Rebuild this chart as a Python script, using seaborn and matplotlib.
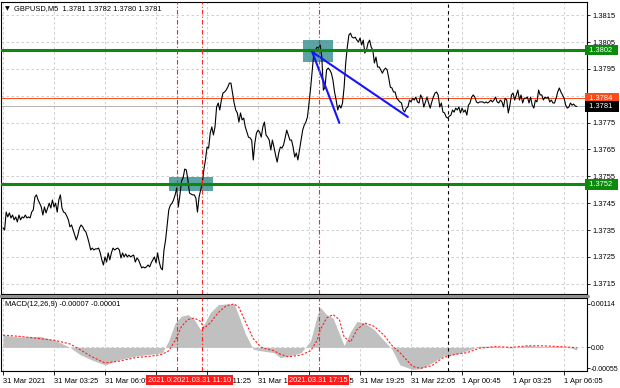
import numpy as np
import pandas as pd
import matplotlib
matplotlib.use("Agg")
import matplotlib.pyplot as plt
import seaborn as sns
from matplotlib.patches import Rectangle
from matplotlib.lines import Line2D

sns.set_theme(style="white")
plt.rcParams['font.family'] = ['Liberation Sans', 'DejaVu Sans']

# ---------------- data ----------------
title_text = "GBPUSD,M5  1.3781 1.3782 1.3780 1.3781"
macd_title = "MACD(12,26,9) -0.00007 -0.00001"
start_time = "2021-03-31 00:45"

close = [
    1.37358, 1.37350, 1.37417, 1.37399, 1.37414, 1.37395, 1.37406, 1.37388, 1.37399, 1.37380,
    1.37406, 1.37388, 1.37399, 1.37395, 1.37406, 1.37395, 1.37399, 1.37395, 1.37417, 1.37425,
    1.37473, 1.37481, 1.37462, 1.37450, 1.37436, 1.37406, 1.37436, 1.37414, 1.37432, 1.37450,
    1.37432, 1.37462, 1.37436, 1.37450, 1.37417, 1.37462, 1.37481, 1.37432, 1.37417, 1.37414,
    1.37402, 1.37388, 1.37362, 1.37369, 1.37350, 1.37332, 1.37313, 1.37332, 1.37358, 1.37369,
    1.37362, 1.37350, 1.37343, 1.37324, 1.37302, 1.37276, 1.37283, 1.37276, 1.37280, 1.37280,
    1.37283, 1.37265, 1.37239, 1.37220, 1.37250, 1.37231, 1.37265, 1.37239, 1.37265, 1.37283,
    1.37276, 1.37280, 1.37283, 1.37276, 1.37246, 1.37265, 1.37250, 1.37261, 1.37250, 1.37257,
    1.37250, 1.37254, 1.37257, 1.37231, 1.37246, 1.37239, 1.37224, 1.37209, 1.37213, 1.37209,
    1.37213, 1.37220, 1.37213, 1.37228, 1.37239, 1.37250, 1.37228, 1.37265, 1.37231, 1.37209,
    1.37202, 1.37276, 1.37313, 1.37369, 1.37425, 1.37443, 1.37450, 1.37462, 1.37481, 1.37507,
    1.37436, 1.37481, 1.37533, 1.37544, 1.37577, 1.37574, 1.37536, 1.37488, 1.37484, 1.37481,
    1.37481, 1.37469, 1.37417, 1.37473, 1.37499, 1.37525, 1.37574, 1.37611, 1.37659, 1.37655,
    1.37711, 1.37734, 1.37704, 1.37734, 1.37808, 1.37823, 1.37797, 1.37834, 1.37860, 1.37864,
    1.37871, 1.37882, 1.37897, 1.37897, 1.37860, 1.37823, 1.37797, 1.37786, 1.37752, 1.37786,
    1.37760, 1.37767, 1.37734, 1.37715, 1.37696, 1.37693, 1.37685, 1.37611, 1.37674, 1.37711,
    1.37722, 1.37715, 1.37696, 1.37734, 1.37752, 1.37704, 1.37696, 1.37685, 1.37648, 1.37685,
    1.37659, 1.37629, 1.37603, 1.37637, 1.37659, 1.37655, 1.37667, 1.37693, 1.37722, 1.37704,
    1.37685, 1.37685, 1.37659, 1.37622, 1.37637, 1.37611, 1.37648, 1.37685, 1.37722, 1.37741,
    1.37752, 1.37771, 1.37823, 1.37879, 1.37946, 1.38009, 1.38020, 1.38031, 1.38027, 1.38039,
    1.37994, 1.37871, 1.37882, 1.37946, 1.37953, 1.37946, 1.37934, 1.37908, 1.37864, 1.37834,
    1.37797, 1.37815, 1.37804, 1.37823, 1.37882, 1.37972, 1.38031, 1.38076, 1.38083, 1.38068,
    1.38065, 1.38068, 1.38057, 1.38050, 1.38065, 1.38039, 1.38057, 1.38009, 1.38020, 1.38046,
    1.38057, 1.38031, 1.38020, 1.37972, 1.37994, 1.37957, 1.37957, 1.37946, 1.37934, 1.37946,
    1.37953, 1.37946, 1.37916, 1.37882, 1.37879, 1.37864, 1.37864, 1.37841, 1.37834, 1.37827,
    1.37823, 1.37797, 1.37789, 1.37804, 1.37808, 1.37834, 1.37827, 1.37841, 1.37834, 1.37845,
    1.37827, 1.37823, 1.37853, 1.37841, 1.37808, 1.37827, 1.37845, 1.37823, 1.37804, 1.37827,
    1.37845, 1.37860, 1.37864, 1.37853, 1.37808, 1.37823, 1.37789, 1.37786, 1.37771, 1.37767,
    1.37774, 1.37778, 1.37797, 1.37789, 1.37804, 1.37797, 1.37808, 1.37786, 1.37804, 1.37789,
    1.37797, 1.37778, 1.37815, 1.37823, 1.37845, 1.37853, 1.37845, 1.37827, 1.37823, 1.37827,
    1.37827, 1.37827, 1.37823, 1.37827, 1.37823, 1.37827, 1.37834, 1.37827, 1.37834, 1.37845,
    1.37827, 1.37823, 1.37834, 1.37827, 1.37808, 1.37841, 1.37834, 1.37786, 1.37815, 1.37853,
    1.37860, 1.37834, 1.37853, 1.37871, 1.37834, 1.37853, 1.37823, 1.37841, 1.37841, 1.37845,
    1.37823, 1.37845, 1.37815, 1.37804, 1.37834, 1.37827, 1.37871, 1.37853, 1.37853, 1.37834,
    1.37845, 1.37841, 1.37845, 1.37827, 1.37834, 1.37823, 1.37823, 1.37841, 1.37864, 1.37879,
    1.37864, 1.37853, 1.37841, 1.37815, 1.37804, 1.37808, 1.37823, 1.37815, 1.37819, 1.37812,
    1.37810,
]

# MACD read at sample bars
macd_bar = [0, 10, 23, 33, 42, 48, 55, 64, 73, 83, 93, 100, 104, 108, 112, 116, 120, 124, 126,
            130, 135, 140, 145, 148, 152, 157, 162, 170, 174, 179, 187, 193, 197, 199, 203, 207,
            211, 214, 218, 222, 227, 233, 239, 244, 249, 257, 262, 269, 276, 284, 291, 299, 309,
            319, 329, 339, 349, 357, 360]
macd_hist = [0.00032, 0.00027, 0.00029, 0.00018, 0.0, -0.00018, -0.00032, -0.00046, -0.00032,
             -0.00023, -0.00018, -0.00014, 0.00018, 0.00064, 0.00082, 0.00086, 0.00073, 0.00046,
             0.00059, 0.00091, 0.00112, 0.00114, 0.00114, 0.00082, 0.00036, -0.00005, -0.00009,
             -0.00014, -0.00027, -0.00023, -0.00014, 0.00018, 0.00082, 0.00105, 0.00086, 0.00077,
             0.00036, 0.00005, 0.00041, 0.00068, 0.00064, 0.00046, 0.00018, -0.00005, -0.00046,
             -0.00058, -0.00056, -0.00041, -0.00023, -0.00018, -0.00009, 0.00003, 0.00002,
             -0.00002, 0.00005, 0.00002, 0.00002, -0.00002, -0.00007]
macd_signal = [0.00032, 0.00029, 0.00023, 0.00018, 0.00009, -0.00005, -0.00023, -0.00041,
               -0.00036, -0.00027, -0.00023, -0.00018, -0.00009, 0.00018, 0.00055, 0.00073,
               0.00077, 0.00068, 0.00050, 0.00064, 0.00091, 0.00109, 0.00114, 0.00105, 0.00068,
               0.00023, 0.0, -0.00009, -0.00018, -0.00025, -0.00020, -0.00009, 0.00018, 0.00046,
               0.00077, 0.00086, 0.00073, 0.00027, 0.00014, 0.00046, 0.00064, 0.00055, 0.00032,
               0.00005, -0.00014, -0.00050, -0.00055, -0.00048, -0.00027, -0.00018, -0.00014,
               -0.00002, 0.00002, 0.0, 0.00004, 0.00004, 0.00002, 0.0, -0.00001]

green_levels = [1.3802, 1.3752]
ask_level = 1.3784
bid_level = 1.3781
price_ticks = [1.3715, 1.3725, 1.3735, 1.3745, 1.3755, 1.3765, 1.3775, 1.3785, 1.3795, 1.3805, 1.3815]
macd_ticks = [0.00114, 0.0, -0.00055]
macd_tick_labels = ["0.00114", "0.00", "-0.00055"]

red_events = ["2021-03-31 09:50", "2021-03-31 11:10", "2021-03-31 17:15"]
day_separator = "2021-04-01 00:00"

zones = [  # (t0, t1, p_low, p_high)
    ("2021-03-31 09:25", "2021-03-31 11:45", 1.37495, 1.37548),
    ("2021-03-31 16:25", "2021-03-31 18:00", 1.37975, 1.38057),
]
trend_lines = [  # (t0, p0, t1, p1)
    ("2021-03-31 16:55", 1.38013, "2021-03-31 18:20", 1.37749),
    ("2021-03-31 16:55", 1.38013, "2021-03-31 21:55", 1.37771),
]
label_every = 32

# ---------------- prep ----------------
t0 = pd.Timestamp(start_time)
times = pd.date_range(t0, periods=len(close), freq="5min")
df = pd.DataFrame({"bar": np.arange(len(close)), "close": close, "time": times})
mdf = pd.DataFrame({"bar": macd_bar, "hist": macd_hist, "signal": macd_signal})

def tbar(s):
    return (pd.Timestamp(s) - t0) / pd.Timedelta("5min")

W, H = 620, 388
def fx(px): return px / W
def fy(py): return 1 - py / H

fig = plt.figure(figsize=(6.2, 3.88), dpi=100)
fig.patch.set_facecolor("white")
ax = fig.add_axes([fx(1), fy(294), fx(587) - fx(1), fy(2) - fy(294)])
axm = fig.add_axes([fx(1), fy(371), fx(587) - fx(1), fy(298) - fy(371)])

xmin, xmax = (1 - 3) / 1.594, (587 - 3) / 1.594
FS = 5.4
grid_kw = dict(color="#c8c8c8", lw=0.6, dashes=(3, 3), zorder=0.5)
tick_bars = list(range(0, len(close), label_every))

for a in (ax, axm):
    a.set_facecolor("white")
    a.set_xlim(xmin, xmax)
    for b in tick_bars:
        a.axvline(b, **grid_kw)
    for s in a.spines.values():
        s.set_color("black")
        s.set_linewidth(0.8)
    a.yaxis.tick_right()
    a.tick_params(axis="y", which="both", right=True, length=2.5, width=0.6, pad=1.5,
                  labelsize=FS, colors="black")
axm.tick_params(axis="y", labelsize=5.0, pad=1.0, length=2)

# ---------------- main panel ----------------
ax.set_ylim(1.37112, 1.38199)
for p in price_ticks:
    ax.axhline(p, **grid_kw)
ax.set_yticks(price_ticks)
ax.set_yticklabels([f"{p:.4f}" for p in price_ticks])
ax.set_xticks([])

for (a0, a1, lo, hi) in zones:
    b0, b1 = tbar(a0), tbar(a1)
    ax.add_patch(Rectangle((b0, lo), b1 - b0, hi - lo, facecolor="#3f9494", alpha=0.85,
                           edgecolor="none", zorder=1))

ax.axhline(ask_level, color="#ff4a1a", lw=0.7, zorder=1.2)
ax.axhline(bid_level, color="#b4b4b4", lw=0.7, zorder=1.2)

sns.lineplot(data=df, x="bar", y="close", ax=ax, color="black", lw=0.8, zorder=3)
ax.set_xlabel("")
ax.set_ylabel("")

for lv in green_levels:
    ax.axhline(lv, color="#0b8a0b", lw=2.2, zorder=4)

for (a0, p0, a1, p1) in trend_lines:
    ax.plot([tbar(a0), tbar(a1)], [p0, p1], color="#1414ff", lw=1.5, zorder=5)

for ev in red_events:
    for a in (ax, axm):
        a.axvline(tbar(ev), color="#ff2020", lw=0.8, dashes=(4, 2, 1, 2), zorder=6)
for a in (ax, axm):
    a.axvline(tbar(day_separator), color="black", lw=0.8, dashes=(3, 3), zorder=6)

# right-hand tags
def tag(axis, y, txt, fc):
    axis.text(1.0, y, txt, transform=axis.get_yaxis_transform(), ha="left", va="center",
              fontsize=FS, color="white", zorder=10, clip_on=False,
              bbox=dict(boxstyle="square,pad=0.25", fc=fc, ec="none"))

tag(ax, ask_level, " 1.3784  ", "#ff4a1a")
tag(ax, bid_level, " 1.3781  ", "black")
for lv in green_levels:
    tag(ax, lv, f" {lv:.4f}  ", "#0b8a0b")

fig.text(fx(5), fy(9), "\u25bc", fontsize=4.5, va="center", ha="left", color="black",
         family=["DejaVu Sans"])
fig.text(fx(14), fy(9), title_text, fontsize=FS, va="center", ha="left", color="black")

# ---------------- MACD panel ----------------
axm.set_ylim(-0.00062, 0.001295)
axm.axhline(0, **grid_kw)
axm.fill_between(mdf["bar"], 0, mdf["hist"], color="#c0c0c0", lw=0, zorder=2)
sns.lineplot(data=mdf, x="bar", y="signal", ax=axm, color="#ff2020", lw=0.8,
             dashes=False, zorder=3).lines[-1].set_dashes((2, 1.5))
axm.set_yticks(macd_ticks)
axm.set_yticklabels(macd_tick_labels)
axm.set_xticks(tick_bars)
labels = []
for i, b in enumerate(tick_bars):
    t = times[b]
    labels.append("31 Mar 2021" if i == 0 else f"{t.day} {t:%b %H:%M}")
axm.set_xticklabels(labels, ha="left")
axm.tick_params(axis="x", length=3, width=0.6, pad=2, labelsize=FS, colors="black",
                bottom=True)
axm.set_xlabel("")
axm.set_ylabel("")
fig.text(fx(5), fy(305), macd_title, fontsize=FS, va="center", ha="left", color="black")

# red time labels on the time axis
for ev in red_events:
    b = tbar(ev)
    xpix = 3 + 1.594 * b
    fig.text(fx(xpix), fy(380), pd.Timestamp(ev).strftime("%Y.%m.%d %H:%M"),
             fontsize=FS, color="white", ha="center", va="center", zorder=10,
             bbox=dict(boxstyle="square,pad=0.2", fc="#ff1a1a", ec="none"))

# panel separator
fig.add_artist(Line2D([0, fx(588)], [fy(296), fy(296)], color="#909090", lw=2.2))

fig.savefig("out.png", dpi=100, facecolor="white")
